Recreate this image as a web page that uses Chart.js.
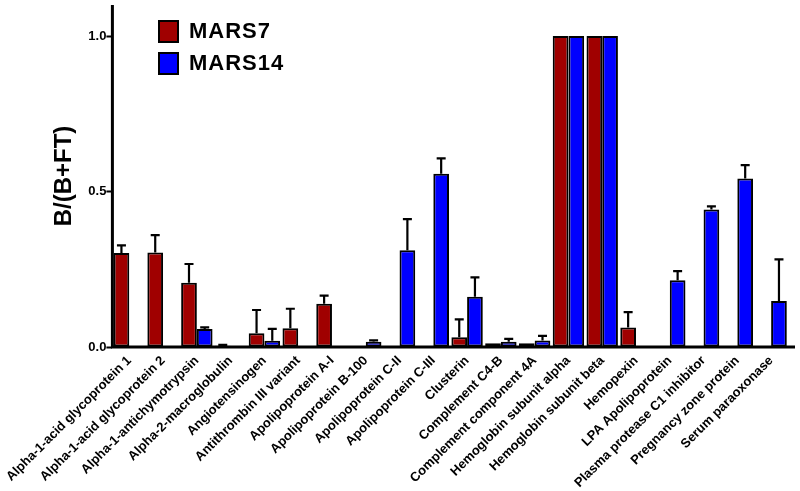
<!DOCTYPE html>
<html lang="en">
<head>
  <meta charset="utf-8">
  <title>B/(B+FT)</title>
  <script src="https://cdn.jsdelivr.net/npm/chart.js"></script>
  <style>
    html, body { margin: 0; padding: 0; background: #fff; overflow: hidden; }
  </style>
</head>
<body>
<canvas id="myChart" width="800" height="491"></canvas>

<script>
  // data
  const proteins = [
    'Alpha-1-acid glycoprotein 1', 'Alpha-1-acid glycoprotein 2', 'Alpha-1-antichymotrypsin',
    'Alpha-2-macroglobulin', 'Angiotensinogen', 'Antithrombin III variant', 'Apolipoprotein A-I',
    'Apolipoprotein B-100', 'Apolipoprotein C-II', 'Apolipoprotein C-III', 'Clusterin',
    'Complement C4-B', 'Complement component 4A', 'Hemoglobin subunit alpha',
    'Hemoglobin subunit beta', 'Hemopexin', 'LPA Apolipoprotein', 'Plasma protease C1 inhibitor',
    'Pregnancy zone protein', 'Serum paraoxonase'
  ];
  const mars7 = [0.302, 0.304, 0.207, 0.004, 0.044, 0.060, 0.139, null, null, null, 0.031,
    0.012, 0.012, 1.0, 1.0, 0.063, null, null, null, null];
  const mars7Err = [0.025, 0.056, 0.060, 0.003, 0.075, 0.063, 0.026, null, null, null, 0.058,
    null, null, null, null, 0.049, null, null, null, null];
  const mars14 = [null, null, 0.058, null, 0.020, null, null, 0.017, 0.311, 0.557, 0.162,
    0.017, 0.021, 1.0, 1.0, null, 0.215, 0.442, 0.542, 0.148];
  const mars14Err = [null, null, 0.005, null, 0.038, null, null, 0.004, 0.100, 0.050, 0.062,
    0.009, 0.015, null, null, null, 0.029, 0.010, 0.043, 0.134];
  const yTicks = [0, 0.5, 1.0];

  const red = '#a00000';
  const blue = '#0000ff';

  // upper error bars, drawn through the scales
  const errorBars = {
    id: 'errorBars',
    afterDatasetsDraw(chart) {
      const ctx = chart.ctx;
      const y = chart.scales.y;
      ctx.save();
      ctx.strokeStyle = '#000';
      ctx.lineWidth = 2.2;
      chart.data.datasets.forEach((ds, i) => {
        const meta = chart.getDatasetMeta(i);
        meta.data.forEach((bar, j) => {
          const v = ds.data[j], e = ds.errors[j];
          if (v == null || e == null) return;
          const yTop = y.getPixelForValue(v + e);
          ctx.beginPath();
          ctx.moveTo(bar.x, bar.y);
          ctx.lineTo(bar.x, yTop);
          ctx.moveTo(bar.x - 4.5, yTop);
          ctx.lineTo(bar.x + 4.5, yTop);
          ctx.stroke();
        });
      });
      ctx.restore();
    }
  };

  // legend in the top-left corner of the plot
  const cornerLegend = {
    id: 'cornerLegend',
    afterDraw(chart) {
      const ctx = chart.ctx;
      ctx.save();
      ctx.font = 'bold 22px "Liberation Sans", Arial, sans-serif';
      ctx.letterSpacing = '1px';
      ctx.textBaseline = 'middle';
      chart.data.datasets.forEach((ds, i) => {
        const top = 21 + i * 32;
        ctx.fillStyle = ds.backgroundColor;
        ctx.fillRect(159, top, 19, 21);
        ctx.strokeStyle = '#000';
        ctx.lineWidth = 2;
        ctx.strokeRect(159, top, 19, 21);
        ctx.fillStyle = '#000';
        ctx.fillText(ds.label, 189, top + 11);
      });
      ctx.restore();
    }
  };

  // x axis line runs a little past the last category
  const axisLines = {
    id: 'axisLines',
    afterDraw(chart) {
      const ctx = chart.ctx;
      const a = chart.chartArea;
      ctx.save();
      ctx.strokeStyle = '#000';
      ctx.lineWidth = 3;
      ctx.beginPath();
      ctx.moveTo(a.left, a.bottom);
      ctx.lineTo(a.right + 7, a.bottom);
      ctx.moveTo(a.left, a.top);
      ctx.lineTo(a.left, a.bottom + 1.5);
      ctx.stroke();
      ctx.restore();
    }
  };

  new Chart(document.getElementById('myChart'), {
    type: 'bar',
    data: {
      labels: proteins,
      datasets: [
        { label: 'MARS7', data: mars7, errors: mars7Err, backgroundColor: red,
          borderColor: '#000', borderWidth: 2, borderSkipped: false },
        { label: 'MARS14', data: mars14, errors: mars14Err, backgroundColor: blue,
          borderColor: '#000', borderWidth: 2, borderSkipped: false }
      ]
    },
    options: {
      responsive: false,
      animation: false,
      devicePixelRatio: 1,
      layout: { padding: { top: 5, right: 12, left: 0, bottom: 0 } },
      datasets: { bar: { categoryPercentage: 0.93, barPercentage: 1.0 } },
      plugins: {
        legend: { display: false },
        tooltip: { enabled: false }
      },
      scales: {
        x: {
          grid: { display: false, drawTicks: false },
          border: { display: false },
          ticks: {
            autoSkip: false, minRotation: 45, maxRotation: 45, padding: 6,
            color: '#000',
            font: { family: '"Liberation Sans", Arial, sans-serif', size: 13, weight: 'bold' }
          },
          afterFit(scale) { scale.height = 144; }
        },
        y: {
          min: 0, max: 1.1,
          grid: { drawOnChartArea: false, tickLength: 6, tickWidth: 2, color: '#000' },
          border: { display: false },
          afterBuildTicks(scale) { scale.ticks = yTicks.map(v => ({ value: v })); },
          ticks: {
            padding: 0, color: '#000',
            callback: v => v.toFixed(1),
            font: { family: '"Liberation Sans", Arial, sans-serif', size: 13, weight: 'bold' }
          },
          title: {
            display: true, text: 'B/(B+FT)', color: '#000',
            padding: { top: 48, bottom: 0 },
            font: { family: '"Liberation Sans", Arial, sans-serif', size: 24, weight: 'bold' }
          },
          afterFit(scale) {
            scale.width = 110;
            scale.paddingTop = 0;
          }
        }
      }
    },
    plugins: [errorBars, cornerLegend, axisLines]
  });
</script>
</body>
</html>
